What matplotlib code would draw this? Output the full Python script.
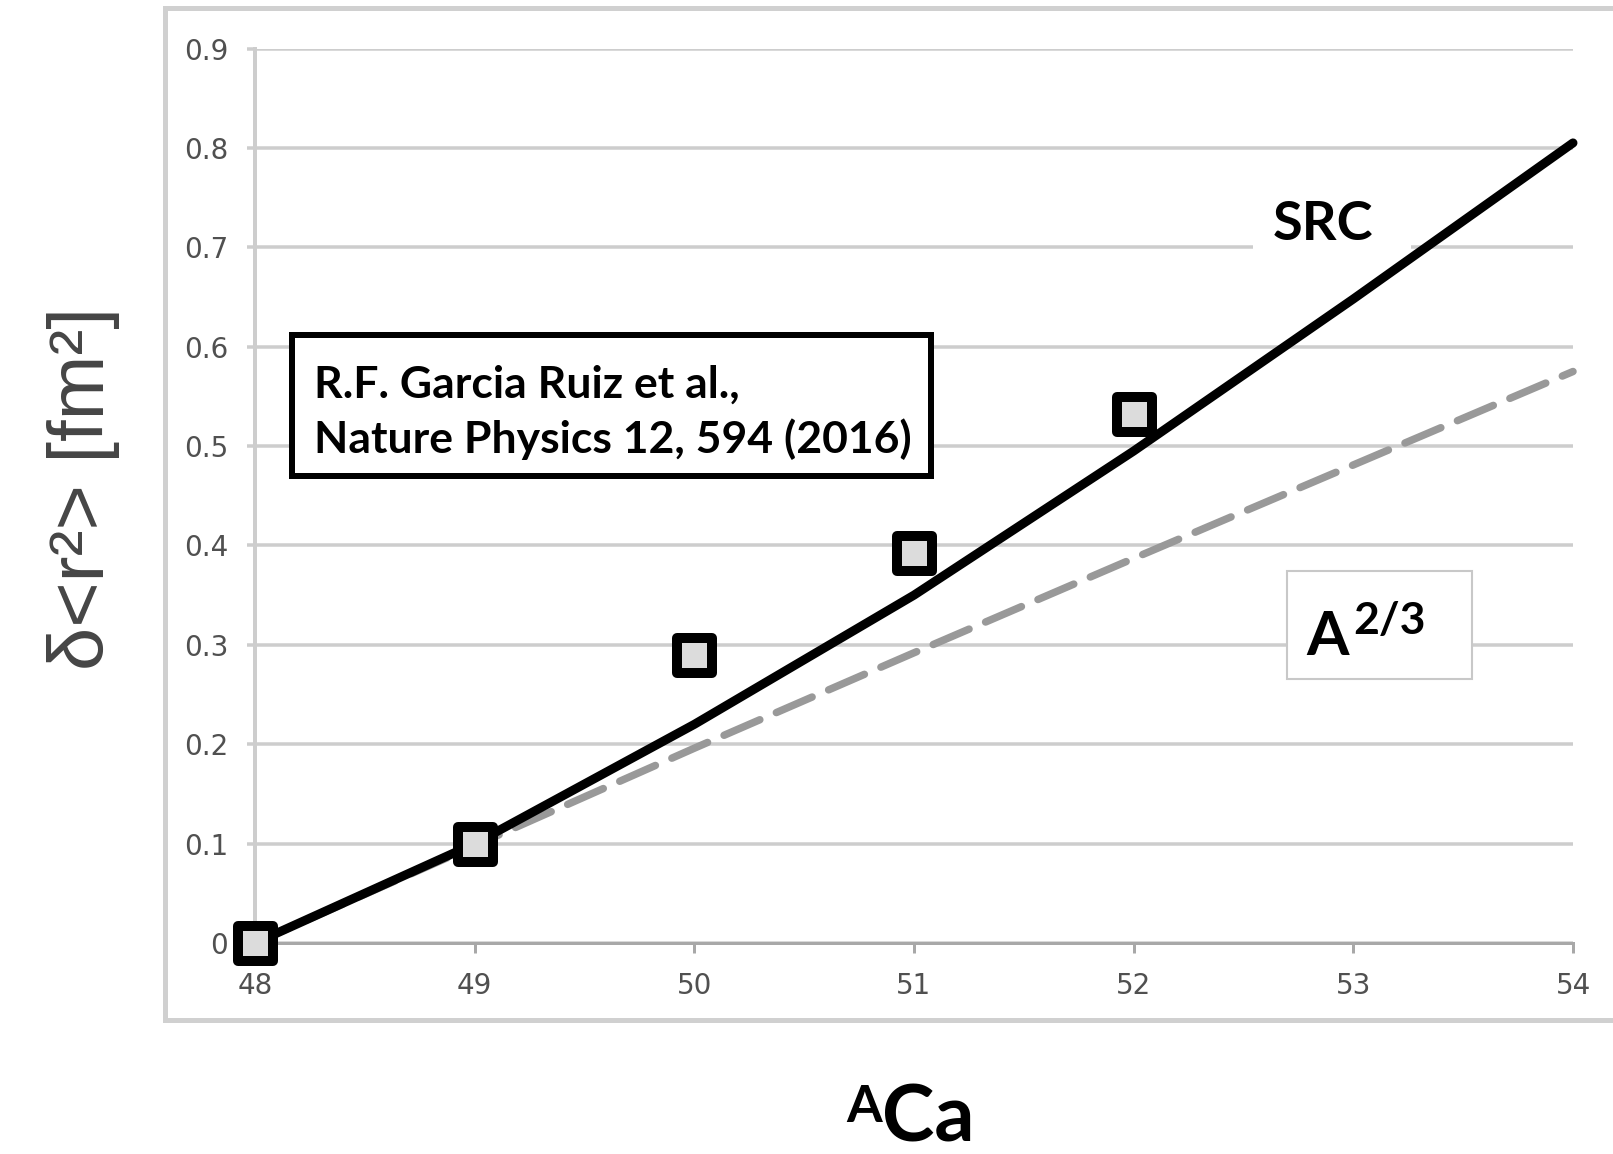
import matplotlib
matplotlib.use("Agg")
import matplotlib.pyplot as plt
from matplotlib.patches import Rectangle
from matplotlib.lines import Line2D
from matplotlib.markers import MarkerStyle

# ---- data -------------------------------------------------------------
mass_numbers = [48, 49, 50, 51, 52, 53, 54]
src_curve = [0.0, 0.10, 0.22, 0.35, 0.495, 0.648, 0.805]
a23_curve = [0.0, 0.098, 0.196, 0.292, 0.387, 0.481, 0.575]

measured_A = [48, 49, 50, 51, 52]
measured_dr2 = [0.0, 0.10, 0.29, 0.392, 0.532]

y_ticks = [0.0, 0.1, 0.2, 0.3, 0.4, 0.5, 0.6, 0.7, 0.8, 0.9]
y_tick_labels = ["0", "0.1", "0.2", "0.3", "0.4", "0.5", "0.6", "0.7", "0.8", "0.9"]
x_tick_labels = ["48", "49", "50", "51", "52", "53", "54"]

reference_lines = ["R.F. Garcia Ruiz et al.,", "Nature Physics 12, 594 (2016)"]

# ---- canvas helpers (pixel units -> figure fractions / points) --------
W, H, DPI = 1613, 1154, 100


def fx(px):
    return px / W


def fy(py):
    return 1 - py / H


def pt(px):
    return px * 72 / DPI


fig = plt.figure(figsize=(W / DPI, H / DPI), dpi=DPI)
fig.patch.set_facecolor("white")

# outer chart frame (open on the right)
frame_kw = dict(transform=fig.transFigure, color="#d0d0d0", lw=pt(5),
                solid_capstyle="projecting")
fig.add_artist(Line2D([fx(165), 1.0], [fy(8), fy(8)], **frame_kw))
fig.add_artist(Line2D([fx(165), fx(165)], [fy(8), fy(1020)], **frame_kw))
fig.add_artist(Line2D([fx(165), 1.0], [fy(1020), fy(1020)], **frame_kw))

ax = fig.add_axes([fx(255), fy(943), (1573 - 255) / W, (943 - 48.5) / H])
ax.set_xlim(mass_numbers[0], mass_numbers[-1])
ax.set_ylim(y_ticks[0], y_ticks[-1])

ax.set_xticks(mass_numbers)
ax.set_xticklabels(x_tick_labels)
ax.set_yticks(y_ticks)
ax.set_yticklabels(y_tick_labels)

for side in ("top", "right"):
    ax.spines[side].set_visible(False)
ax.spines["left"].set_color("#cdcdcd")
ax.spines["left"].set_linewidth(pt(4))
ax.spines["bottom"].set_color("#a8a8a8")
ax.spines["bottom"].set_linewidth(pt(3))

ax.set_axisbelow(True)
ax.yaxis.grid(True, color="#cdcdcd", lw=pt(3.5))
ax.tick_params(axis="y", length=pt(8), width=pt(3.5), color="#cdcdcd",
               pad=pt(19), labelsize=20, labelcolor="#505050")
ax.tick_params(axis="x", length=pt(10), width=pt(3), color="#a8a8a8",
               pad=pt(19), labelsize=20, labelcolor="#505050")

# white cut-out behind the SRC label
ax.add_patch(Rectangle((fx(1253), fy(257)), (1411 - 1253) / W, (257 - 178) / H,
                       transform=fig.transFigure, fc="white", ec="none",
                       zorder=1))
# boxed A^(2/3) label
ax.add_patch(Rectangle((fx(1287), fy(679)), (1472 - 1287) / W, (679 - 571) / H,
                       transform=fig.transFigure, fc="white", ec="#c8c8c8",
                       lw=1.5, zorder=1))

# curves and measured points
ax.plot(mass_numbers, a23_curve, color="#999999", lw=pt(7.5),
        dashes=(5.2, 2.4), dash_capstyle="round", zorder=2, clip_on=False)
ax.plot(mass_numbers, src_curve, color="black", lw=pt(9),
        solid_joinstyle="round", solid_capstyle="round", zorder=3,
        clip_on=False)
ax.plot(measured_A, measured_dr2, ls="none",
        marker=MarkerStyle("s", joinstyle="round"), ms=pt(35), mew=pt(10),
        mec="black", mfc="#dcdcdc", zorder=4, clip_on=False)

bold = dict(family="Lato", fontweight="bold", color="black")

ax.text(fx(1273), fy(240), "SRC", transform=fig.transFigure, fontsize=39,
        ha="left", va="baseline", zorder=5, **bold)
ax.text(fx(1306), fy(655), "A", transform=fig.transFigure, fontsize=44,
        ha="left", va="baseline", zorder=5, **bold)
ax.text(fx(1353), fy(634), "2/3", transform=fig.transFigure, fontsize=32,
        ha="left", va="baseline", zorder=5, **bold)

# reference box
fig.add_artist(Rectangle((fx(292), fy(476)), (931 - 292) / W, (476 - 335) / H,
                         transform=fig.transFigure, fc="white", ec="black",
                         lw=pt(6), zorder=5))
fig.text(fx(314), fy(398), reference_lines[0], fontsize=32, ha="left",
         va="baseline", zorder=6, **bold)
fig.text(fx(314), fy(453), reference_lines[1], fontsize=32, ha="left",
         va="baseline", zorder=6, **bold)

# axis titles
fig.text(fx(846), fy(1122), "A", fontsize=37, ha="left", va="baseline",
         zorder=6, **bold)
fig.text(fx(882), fy(1141), "Ca", fontsize=57, ha="left", va="baseline",
         zorder=6, **bold)
fig.text(fx(84), fy(489), "δ<r²> [fm²]", rotation=90, ha="center",
         va="center", fontsize=56, family="Liberation Sans", color="#454545")

fig.savefig("out.png", dpi=DPI)
